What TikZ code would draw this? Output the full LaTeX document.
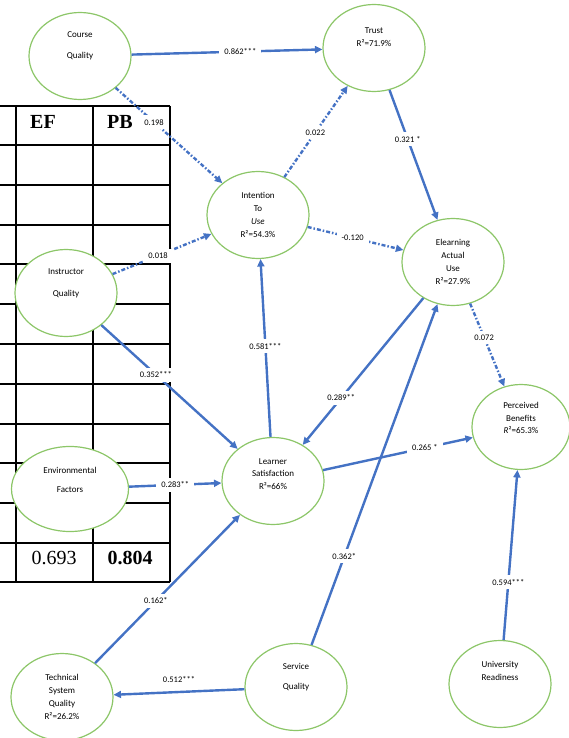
\documentclass[tikz,border=0pt]{standalone}
\usepackage{fontspec}
\setmainfont{Carlito}
\newfontfamily\tablefont{Liberation Serif}
\usetikzlibrary{shapes.geometric,arrows.meta}
\definecolor{myblue}{RGB}{68,114,196}
\definecolor{mygreen}{RGB}{140,198,104}

\tikzset{
    construct/.style={ellipse, draw=mygreen, line width=1.2pt, fill=white,
        minimum width=102pt, minimum height=87pt, inner sep=0pt},
    ctext/.style={align=center, font=\fontsize{9}{12.8}\selectfont},
    hyp/.style={draw=myblue, line width=2.4pt, -{Triangle[length=7.5pt,width=7pt]}},
    nsig/.style={hyp, dash pattern=on 4pt off 2pt on 1.5pt off 2pt},
    coef/.style={fill=white, inner xsep=5pt, inner ysep=4pt, font=\fontsize{8.5}{10}\selectfont},
    cell/.style={font=\tablefont\fontsize{20}{24}\selectfont},
}

\begin{document}
\begin{tikzpicture}[x=1pt, y=-1pt]
    \useasboundingbox (0,0) rectangle (568,738);

    % Table behind the model
    \foreach \y in {106,145,185,225,264,304,344,384,424,463,503,543,582}
        \draw[line width=1.5pt] (0,\y) -- (170,\y);
    \foreach \x in {16,93,170}
        \draw[line width=1.5pt] (\x,106) -- (\x,582);
    \node[cell, font=\tablefont\bfseries\fontsize{20}{24}\selectfont] (ef) at (43,122) {EF};
    \node[cell, font=\tablefont\bfseries\fontsize{20}{24}\selectfont] (pb) at (120,122) {PB};
    \node[cell] (ef-val) at (54,558) {0.693};
    \node[cell, font=\tablefont\bfseries\fontsize{20}{24}\selectfont] (pb-val) at (130,558) {0.804};

    % Constructs
    \node[construct] (course) at (80,56) {};
    \node[ctext] (course-t) at ([yshift=10pt]course.center) {Course\\[8pt]Quality};

    \node[construct] (trust) at (374,48) {};
    \node[ctext] (trust-t) at ([yshift=11pt]trust.center) {Trust\\R²=71.9\%};

    \node[construct] (intention) at (258,215) {};
    \node[ctext] (intention-t) at (intention.center) {Intention\\To\\\textit{Use}\\R²=54.3\%};

    \node[construct] (elearn) at (453,262) {};
    \node[ctext] (elearn-t) at (elearn.center) {Elearning\\Actual\\Use\\R²=27.9\%};

    \node[construct] (instructor) at (66,293) {};
    \node[ctext] (instructor-t) at ([yshift=10pt]instructor.center) {Instructor\\[9pt]Quality};

    \node[construct] (learner) at (273,481) {};
    \node[ctext] (learner-t) at ([yshift=7pt]learner.center) {Learner\\Satisfaction\\R²=66\%};

    \node[construct, minimum width=98pt, minimum height=85pt] (perceived) at (521,427) {};
    \node[ctext] (perceived-t) at ([yshift=9pt]perceived.center) {Perceived\\Benefits\\\textit{R}²=65.3\%};

    \node[construct, minimum width=117pt, minimum height=85pt] (environ) at (70,489) {};
    \node[ctext] (environ-t) at ([yshift=9pt]environ.center) {Environmental\\[7pt]Factors};

    \node[construct] (technical) at (62,697) {};
    \node[ctext] (technical-t) at (technical.center) {Technical\\System\\Quality\\R²=26.2\%};

    \node[construct] (service) at (296,687) {};
    \node[ctext] (service-t) at ([yshift=10pt]service.center) {Service\\[7pt]Quality};

    \node[construct] (univ) at (500,684) {};
    \node[ctext] (univ-t) at ([yshift=13pt]univ.center) {University\\Readiness};

    % Paths and coefficients
    \draw[hyp] (course) -- node[coef, pos=0.57] (b-ct) {0.862***} (trust);
    \draw[nsig] (course) -- node[coef, pos=0.36] (b-ci) {0.198} (intention);
    \draw[nsig] (intention) -- node[coef, pos=0.49] (b-it) {0.022} (trust);
    \draw[hyp] (trust) -- node[coef, pos=0.38] (b-te) {0.321 *} (elearn);
    \draw[nsig] (instructor) -- node[coef, pos=0.46] (b-qi) {0.018} (intention);
    \draw[nsig] (intention) -- node[coef, pos=0.47] (b-ie) {-0.120} (elearn);
    \draw[hyp] (learner) -- node[coef, pos=0.51] (b-li) {0.581***} (intention);
    \draw[hyp] (instructor) -- node[coef, pos=0.4] (b-ql) {0.352***} (learner);
    \draw[hyp] (elearn) -- node[coef, pos=0.68] (b-el) {0.289**} (learner);
    \draw[hyp] (environ) -- node[coef, pos=0.5] (b-fl) {0.283**} (learner);
    \draw[hyp] (learner) -- node[coef, pos=0.68] (b-lp) {0.265 *} (perceived);
    \draw[hyp] (technical) -- node[coef, pos=0.42] (b-sl) {0.162*} (learner);
    \draw[hyp] (service) -- node[coef, pos=0.5, yshift=12pt] (b-vs) {0.512***} (technical);
    \draw[hyp] (service) -- node[coef, pos=0.26] (b-ve) {0.362*} (elearn);
    \draw[nsig] (elearn) -- node[coef, pos=0.41] (b-ep) {0.072} (perceived);
    \draw[hyp] (univ) -- node[coef, pos=0.34] (b-up) {0.594***} (perceived);
\end{tikzpicture}
\end{document}
